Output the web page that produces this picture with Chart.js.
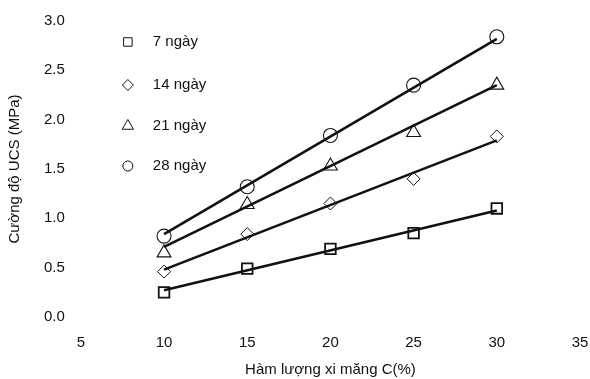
<!DOCTYPE html>
<html>
<head>
<meta charset="utf-8">
<script src="https://cdn.jsdelivr.net/npm/chart.js@4/dist/chart.umd.min.js"></script>
<style>
  html, body { margin: 0; padding: 0; background: #fff; }
  #wrap { width: 590px; height: 379px; }
</style>
</head>
<body>
<div id="wrap"><canvas id="chart"></canvas></div>
<script>
// ─── Data ────────────────────────────────────────────────────────────────────

const cementContent = [10, 15, 20, 25, 30];
const seriesLabels = ['7 ngày', '14 ngày', '21 ngày', '28 ngày'];
const ucs7 = [0.25, 0.49, 0.69, 0.85, 1.10];
const ucs14 = [0.46, 0.84, 1.15, 1.40, 1.83];
const ucs21 = [0.65, 1.14, 1.53, 1.87, 2.35];
const ucs28 = [0.82, 1.32, 1.84, 2.35, 2.84];

// trend line end points at C = 10 and C = 30
const trendX = [10, 30];
const trend7 = [0.27, 1.08];
const trend14 = [0.48, 1.79];
const trend21 = [0.71, 2.35];
const trend28 = [0.84, 2.82];

const xTicks = [5, 10, 15, 20, 25, 30, 35];
const yTicks = [0, 0.5, 1.0, 1.5, 2.0, 2.5, 3.0];

// ─── Styling ─────────────────────────────────────────────────────────────────

const FONT = "'Liberation Sans', Arial, sans-serif";
const INK = '#111';
const markers = [
  { style: 'rect', radius: 7.5, width: 1.8, legendRadius: 6 },
  { style: 'rectRot', radius: 6.5, width: 1, legendRadius: 5.5 },
  { style: 'triangle', radius: 8, width: 1.1, legendRadius: 6.5 },
  { style: 'circle', radius: 7, width: 1.1, legendRadius: 5 },
];
const measured = [ucs7, ucs14, ucs21, ucs28];
const trends = [trend7, trend14, trend21, trend28];

const toXY = (xs, ys) => xs.map((x, i) => ({ x, y: ys[i] }));

const datasets = [];
trends.forEach((t, i) => {
  datasets.push({
    label: 'trend ' + seriesLabels[i],
    data: toXY(trendX, t),
    showLine: true,
    borderColor: INK,
    borderWidth: 2.6,
    pointRadius: 0,
    fill: false,
  });
});
measured.forEach((s, i) => {
  const m = markers[i];
  datasets.push({
    label: seriesLabels[i],
    data: toXY(cementContent, s),
    showLine: false,
    pointStyle: m.style,
    pointRadius: m.radius,
    pointBorderWidth: m.width,
    pointBorderColor: INK,
    pointBackgroundColor: 'rgba(0,0,0,0)',
  });
});

// ─── In-plot legend ──────────────────────────────────────────────────────────

const legendRows = [42, 85, 126, 166];
const plotLegend = {
  id: 'plotLegend',
  afterDraw(chart) {
    const { ctx, chartArea } = chart;
    const mx = chartArea.left + 47;
    const tx = chartArea.left + 72;
    ctx.save();
    seriesLabels.forEach((label, i) => {
      const m = markers[i];
      ctx.strokeStyle = INK;
      ctx.fillStyle = 'rgba(0,0,0,0)';
      Chart.helpers.drawPoint(ctx, {
        pointStyle: m.style,
        radius: m.legendRadius,
        borderWidth: 1.2,
        rotation: 0,
      }, mx, legendRows[i]);
      ctx.fillStyle = INK;
      ctx.font = '15px ' + FONT;
      ctx.textBaseline = 'middle';
      ctx.textAlign = 'left';
      ctx.fillText(label, tx, legendRows[i]);
    });
    ctx.restore();
  }
};

// ─── Chart ───────────────────────────────────────────────────────────────────

new Chart(document.getElementById('chart'), {
  type: 'scatter',
  data: { datasets },
  plugins: [plotLegend],
  options: {
    responsive: true,
    maintainAspectRatio: false,
    animation: false,
    layout: { padding: { top: 21, right: 10, bottom: 0, left: 6 } },
    plugins: {
      legend: { display: false },
      tooltip: { enabled: false },
    },
    scales: {
      x: {
        type: 'linear',
        min: 5,
        max: 35,
        afterBuildTicks: axis => { axis.ticks = xTicks.map(v => ({ value: v })); },
        // let the "35" label hang into the right margin, as in the figure
        afterFit: axis => { axis.paddingRight = 0; },
        grid: { display: false },
        border: { display: false },
        ticks: { color: INK, font: { family: FONT, size: 15 }, padding: 9, maxRotation: 0 },
        title: {
          display: true,
          text: 'Hàm lượng xi măng C(%)',
          color: INK,
          font: { family: FONT, size: 15 },
          padding: { top: 0, bottom: 0 },
        },
      },
      y: {
        type: 'linear',
        min: 0,
        max: 3,
        afterBuildTicks: axis => { axis.ticks = yTicks.map(v => ({ value: v })); },
        grid: { display: false },
        border: { display: false },
        ticks: {
          color: INK,
          font: { family: FONT, size: 15 },
          padding: 8,
          callback: v => v.toFixed(1),
        },
        title: {
          display: true,
          text: 'Cường độ UCS (MPa)',
          color: INK,
          font: { family: FONT, size: 15 },
          padding: { top: 0, bottom: 12 },
        },
      },
    },
  },
});
</script>
</body>
</html>
